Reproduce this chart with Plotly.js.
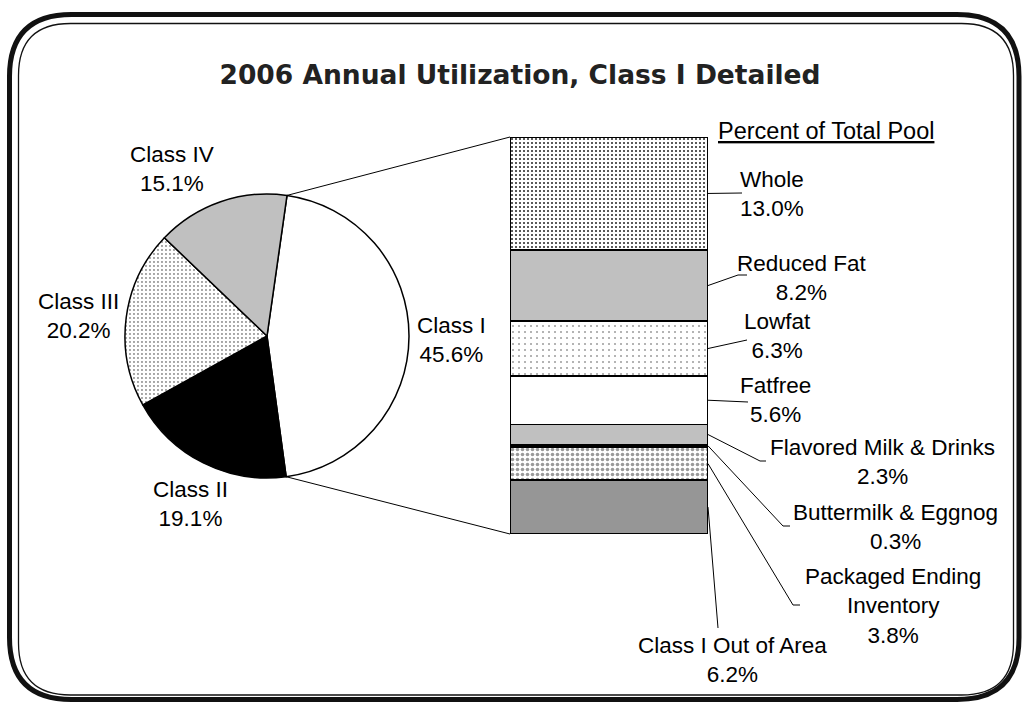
<!DOCTYPE html>
<html>
<head>
<meta charset="utf-8">
<script src="https://cdn.plot.ly/plotly-3.0.1.min.js"></script>
<style>html,body{margin:0;padding:0;background:#fff;}#chart{width:1022px;height:702px;}</style>
</head>
<body>
<div id="chart"></div>
<script>
// ---------- DATA ----------
const pieLabels = ["Class I", "Class II", "Class III", "Class IV"];
const pieValues = [45.6, 19.1, 20.2, 15.1];

// Class I detail, listed top to bottom
const barLabels = ["Whole", "Reduced Fat", "Lowfat", "Fatfree", "Flavored Milk & Drinks",
                   "Buttermilk & Eggnog", "Packaged Ending Inventory", "Class I Out of Area"];
const barTextLabels = ["Whole", "Reduced Fat", "Lowfat", "Fatfree", "Flavored Milk & Drinks",
                   "Buttermilk & Eggnog", "Packaged Ending<br>Inventory", "Class I Out of Area"];
const barValues = [13.0, 8.2, 6.3, 5.6, 2.3, 0.3, 3.8, 6.2];

const titleText = "2006 Annual Utilization, Class I Detailed";
const subTitleText = "Percent of Total Pool";

// ---------- STYLE / LAYOUT ----------
const W = 1022, H = 702;
const px = x => x / W;
const py = y => 1 - y / H;
const FONT = "Liberation Sans, Arial, sans-serif";
const LABEL_SIZE = 22.5;

const pieDomain = {x: [px(125), px(409)], y: [py(478), py(194)]};
const pieRotation = 8.1;
const pieFill = ["#ffffff", "#000000", "#ffffff", "#c0c0c0"];
const pieShape = ["", "", ".", ""];
const pieFg = ["#000", "#000", "#222", "#000"];
const pieLabelPos = [[451, 340], [190, 504], [78, 316], [172, 169]];

const barDomainX = [px(510), px(708)];
const barDomainY = [py(534), py(137)];
const barStyles = [
  {color: "#ffffff", shape: ".", fg: "#222", size: 4, sol: 0.2},    // Whole
  {color: "#c0c0c0", shape: "", fg: "#000", size: 6, sol: 0.1},     // Reduced Fat
  {color: "#ffffff", shape: ".", fg: "#444", size: 6, sol: 0.05},   // Lowfat
  {color: "#ffffff", shape: "", fg: "#000", size: 6, sol: 0.1},     // Fatfree
  {color: "#c0c0c0", shape: "", fg: "#000", size: 6, sol: 0.1},     // Flavored
  {color: "#000000", shape: "", fg: "#000", size: 6, sol: 0.1},     // Buttermilk
  {color: "#ffffff", shape: ".", fg: "#9a9a9a", size: 5, sol: 0.4}, // Packaged
  {color: "#969696", shape: "", fg: "#000", size: 6, sol: 0.1}      // Out of Area
];
// label centres and leader-line end points (pixels)
const barLabelPos = [[772, 194], [802, 278], [777, 336], [775, 400], [882, 462], [895, 527], [893, 606], [732, 660]];
const leaderEnds = [
  [[742, 193]],
  [[738, 275], [747, 275]],
  [[747, 340]],
  [[748, 402]],
  [[760, 461], [766, 461]],
  [[783, 526], [790, 526]],
  [[793, 605], [800, 605]],
  [[718, 628]]
];

// ---------- TRACES ----------
const traces = [];
traces.push({
  type: "pie",
  labels: pieLabels,
  values: pieValues,
  sort: false,
  direction: "clockwise",
  rotation: pieRotation,
  domain: pieDomain,
  textinfo: "none",
  textposition: "none",
  hoverinfo: "none",
  marker: {
    colors: pieFill,
    line: {color: "#000", width: 1.5},
    pattern: {shape: pieShape, fgcolor: pieFg, bgcolor: pieFill, size: 4, solidity: 0.1, fillmode: "replace"}
  }
});

const barTotal = barValues.reduce((a, b) => a + b, 0);
// stack from the bottom: reverse order
for (let i = barValues.length - 1; i >= 0; i--) {
  const s = barStyles[i];
  traces.push({
    type: "bar",
    x: [0],
    y: [barValues[i]],
    width: [1],
    name: barLabels[i],
    xaxis: "x", yaxis: "y",
    hoverinfo: "none",
    marker: {
      color: s.color,
      line: {color: "#000", width: 1.5},
      pattern: {shape: s.shape, fgcolor: s.fg, bgcolor: s.color, size: s.size, solidity: s.sol, fillmode: "replace"}
    }
  });
}

// ---------- ANNOTATIONS & SHAPES ----------
const annotations = [];
pieLabels.forEach((lab, i) => {
  annotations.push({
    xref: "paper", yref: "paper", x: px(pieLabelPos[i][0]), y: py(pieLabelPos[i][1]),
    xanchor: "center", yanchor: "middle", align: "center", showarrow: false,
    text: lab + "<br>" + pieValues[i].toFixed(1) + "%",
    font: {family: FONT, size: LABEL_SIZE, color: "#000"}
  });
});
barLabels.forEach((lab, i) => {
  annotations.push({
    xref: "paper", yref: "paper", x: px(barLabelPos[i][0]), y: py(barLabelPos[i][1]),
    xanchor: "center", yanchor: "middle", align: "center", showarrow: false,
    text: barTextLabels[i] + "<br>" + barValues[i].toFixed(1) + "%",
    font: {family: FONT, size: LABEL_SIZE, color: "#000"}
  });
});
annotations.push({
  xref: "paper", yref: "paper", x: px(826), y: py(131),
  xanchor: "center", yanchor: "middle", showarrow: false,
  text: "<u>" + subTitleText + "</u>",
  font: {family: FONT, size: 23.5, color: "#000"}
});

const shapes = [];
// leader lines: from bar right edge at segment middle (data-derived) to label
let cumTop = barTotal;
barValues.forEach((v, i) => {
  const mid = cumTop - v / 2;
  cumTop -= v;
  const yPaper = barDomainY[0] + (mid / barTotal) * (barDomainY[1] - barDomainY[0]);
  let path = "M " + barDomainX[1] + "," + yPaper;
  leaderEnds[i].forEach(p => { path += " L " + px(p[0]) + "," + py(p[1]); });
  shapes.push({type: "path", xref: "paper", yref: "paper", path: path, line: {color: "#000", width: 1}});
});

// connectors from pie (Class I slice edges) to bar
const pieCx = (pieDomain.x[0] + pieDomain.x[1]) / 2 * W;
const pieCy = (1 - (pieDomain.y[0] + pieDomain.y[1]) / 2) * H;
const pieR = Math.min((pieDomain.x[1] - pieDomain.x[0]) * W, (pieDomain.y[1] - pieDomain.y[0]) * H) / 2;
const pieTotal = pieValues.reduce((a, b) => a + b, 0);
const a0 = pieRotation * Math.PI / 180;
const a1 = a0 + 2 * Math.PI * pieValues[0] / pieTotal;
const ptA = [pieCx + pieR * Math.sin(a0), pieCy - pieR * Math.cos(a0)];
const ptB = [pieCx + pieR * Math.sin(a1), pieCy - pieR * Math.cos(a1)];
shapes.push({type: "line", xref: "paper", yref: "paper", x0: px(ptA[0]), y0: py(ptA[1]), x1: barDomainX[0], y1: barDomainY[1], line: {color: "#000", width: 1}});
shapes.push({type: "line", xref: "paper", yref: "paper", x0: px(ptB[0]), y0: py(ptB[1]), x1: barDomainX[0], y1: barDomainY[0], line: {color: "#000", width: 1}});

// rounded frame
function roundRect(L, T, R, B, r) {
  return "M " + px(L + r) + "," + py(T) +
    " L " + px(R - r) + "," + py(T) +
    " Q " + px(R) + "," + py(T) + " " + px(R) + "," + py(T + r) +
    " L " + px(R) + "," + py(B - r) +
    " Q " + px(R) + "," + py(B) + " " + px(R - r) + "," + py(B) +
    " L " + px(L + r) + "," + py(B) +
    " Q " + px(L) + "," + py(B) + " " + px(L) + "," + py(B - r) +
    " L " + px(L) + "," + py(T + r) +
    " Q " + px(L) + "," + py(T) + " " + px(L + r) + "," + py(T) + " Z";
}
shapes.push({type: "path", xref: "paper", yref: "paper", layer: "below", path: roundRect(9.5, 14.5, 1019, 699.5, 62), line: {color: "#111", width: 5}});
shapes.push({type: "path", xref: "paper", yref: "paper", layer: "below", path: roundRect(18.5, 23.5, 1013.5, 695, 52), line: {color: "#111", width: 1.3}});

const layout = {
  width: W, height: H,
  margin: {l: 0, r: 0, t: 0, b: 0},
  paper_bgcolor: "#fff", plot_bgcolor: "rgba(0,0,0,0)",
  showlegend: false,
  hovermode: false,
  barmode: "stack",
  bargap: 0,
  title: {
    text: "<b>" + titleText + "</b>",
    x: px(520), y: py(75), xref: "paper", yref: "paper", xanchor: "center", yanchor: "middle",
    font: {family: "DejaVu Sans, Verdana, sans-serif", size: 26.5, color: "#222"}
  },
  xaxis: {domain: barDomainX, range: [-0.5, 0.5], visible: false, fixedrange: true},
  yaxis: {domain: barDomainY, range: [0, barTotal], visible: false, fixedrange: true},
  annotations: annotations,
  shapes: shapes
};

Plotly.newPlot("chart", traces, layout, {displayModeBar: false, staticPlot: true});
</script>
</body>
</html>
